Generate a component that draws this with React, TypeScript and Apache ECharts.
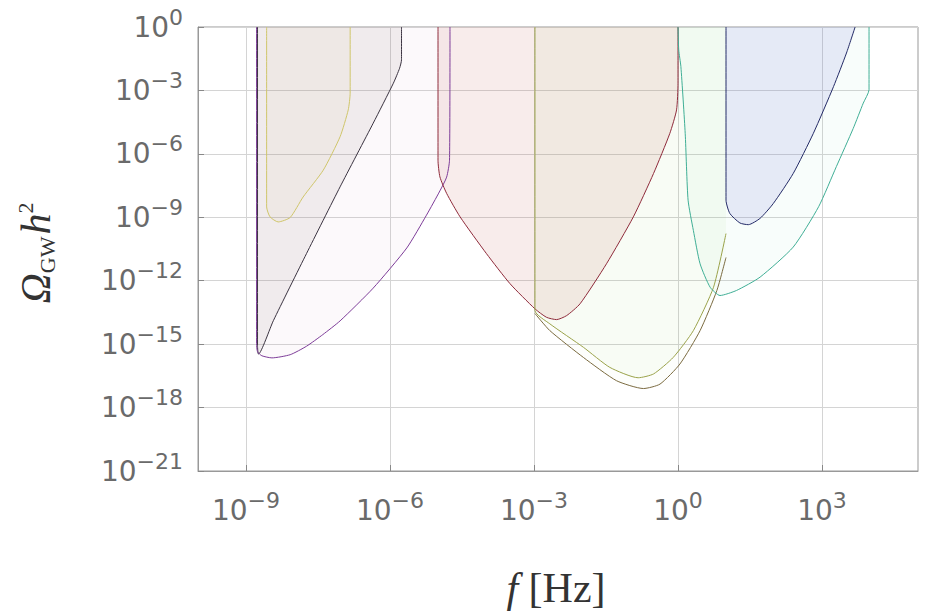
import React, { useEffect, useRef } from "react";
import * as echarts from "echarts";

// All values are log10 f [Hz] and log10 Ω_GW h².
const xTickExponents = [-9, -6, -3, 0, 3];

const blackLogF = [-8.76, -8.76, -8.74, -8.43, -7.74, -7.04, -6.35, -5.93, -5.8, -5.76, -5.76];
const blackLogOmega = [0, -15.07, -15.47, -13.89, -10.72, -7.56, -4.55, -2.66, -1.95, -1.55, 0];

const purpleLogF = [-8.78, -8.78, -8.76, -8.67, -8.46, -8.08, -7.74, -7.4, -7.04, -6.35, -5.65, -5.24, -4.96, -4.82, -4.76, -4.75];
const purpleLogOmega = [0, -14.98, -15.36, -15.55, -15.65, -15.5, -15.1, -14.55, -13.9, -12.35, -10.45, -8.9, -7.75, -7.1, -6.3, 0];

const yellowLogF = [-8.57, -8.57, -8.5, -8.33, -8.08, -7.81, -7.39, -7.04, -6.87, -6.83, -6.83];
const yellowLogOmega = [0, -8.51, -8.98, -9.22, -9.01, -8.04, -6.77, -5.19, -3.92, -3.13, 0];

const redLogF = [-5.0, -5.0, -4.96, -4.82, -4.54, -3.99, -3.5, -2.98, -2.74, -2.53, -2.32, -2.04, -1.49, -0.93, -0.51, -0.17, -0.03, 0.0, 0.0];
const redLogOmega = [0, -6.3, -7.09, -7.87, -8.98, -10.72, -12.14, -13.33, -13.73, -13.84, -13.65, -13.09, -11.2, -8.98, -6.93, -5.03, -3.92, -2.66, 0];

const oliveALogF = [-2.98, -2.98, -2.67, -1.97, -1.42, -0.83, -0.51, -0.1, 0.32, 0.74, 1.0];
const oliveALogOmega = [0, -13.41, -14.04, -15.15, -16.1, -16.59, -16.41, -15.63, -14.36, -12.31, -9.77];

const oliveBLogF = [-2.98, -2.67, -1.97, -1.28, -0.72, -0.375, 0.04, 0.46, 0.81, 1.0];
const oliveBLogOmega = [-13.55, -14.36, -15.63, -16.73, -17.1, -16.89, -15.94, -14.36, -12.46, -10.9];

const tealLogF = [0.0, 0.015, 0.06, 0.15, 0.21, 0.32, 0.46, 0.67, 0.875, 1.22, 1.71, 2.4, 2.93, 3.3, 3.65, 3.86, 3.98, 3.98];
const tealLogOmega = [0, -1.08, -1.87, -5.03, -8.19, -9.62, -11.2, -12.31, -12.7, -12.46, -11.83, -10.41, -8.5, -6.6, -4.8, -3.6, -2.97, 0];

const navyLogF = [1.0, 1.0, 1.08, 1.29, 1.465, 1.71, 1.985, 2.4, 2.82, 3.24, 3.51, 3.69];
const navyLogOmega = [0, -8.19, -8.82, -9.27, -9.35, -9.05, -8.35, -6.93, -5.03, -2.82, -1.23, 0];

const curves = [
  { name: "black", f: blackLogF, o: blackLogOmega, line: "#3a3340", fill: "rgba(110,90,80,0.12)" },
  { name: "purple", f: purpleLogF, o: purpleLogOmega, line: "#7d3c98", fill: "rgba(200,120,170,0.07)" },
  { name: "yellow", f: yellowLogF, o: yellowLogOmega, line: "#cfc56a", fill: "rgba(200,190,80,0.06)" },
  { name: "red", f: redLogF, o: redLogOmega, line: "#8e2a3a", fill: "rgba(190,90,80,0.16)" },
  { name: "oliveA", f: oliveALogF, o: oliveALogOmega, line: "#9aa24a", fill: "rgba(150,200,100,0.06)" },
  { name: "oliveB", f: oliveBLogF, o: oliveBLogOmega, line: "#7b6b40", fill: "rgba(150,200,100,0.03)" },
  { name: "teal", f: tealLogF, o: tealLogOmega, line: "#3fae95", fill: "rgba(120,210,190,0.08)" },
  { name: "navy", f: navyLogF, o: navyLogOmega, line: "#232a66", fill: "rgba(90,90,210,0.16)" },
];

const expText = (v: number) => (v < 0 ? "\u2212" + String(-v) : String(v));

const labelRich = {
  b: { fontSize: 28, fontFamily: "DejaVu Sans", color: "#6a6a6a" },
  s: { fontSize: 22, fontFamily: "DejaVu Sans", color: "#6a6a6a", padding: [0, 0, 20, 0] },
};

export default function App() {
  const ref = useRef<HTMLDivElement>(null);
  useEffect(() => {
    document.body.style.margin = "0";
    const chart = echarts.init(ref.current!, null, { renderer: "svg" });
    const option: any = {
      animation: false,
      backgroundColor: "#fff",
      grid: { left: 198, right: 10, top: 27, bottom: 141, show: true, borderColor: "#999", borderWidth: 1 },
      xAxis: {
        type: "value",
        min: -10,
        max: 5,
        interval: 1,
        axisLine: { show: true, onZero: false, lineStyle: { color: "#999" } },
        axisTick: { show: true, inside: true, length: 6, customValues: xTickExponents, lineStyle: { color: "#888" } },
        splitLine: { show: true, lineStyle: { color: "#d4d4d4", width: 1 } },
        axisLabel: {
          margin: 18,
          formatter: (v: number) => {
            const r = Math.round(v);
            return xTickExponents.indexOf(r) >= 0 ? `{b|10}{s|${expText(r)}}` : "";
          },
          rich: labelRich,
        },
      },
      yAxis: {
        type: "value",
        min: -21,
        max: 0,
        interval: 3,
        axisLine: { show: true, onZero: false, lineStyle: { color: "#999" } },
        axisTick: { show: true, inside: true, length: 6, lineStyle: { color: "#888" } },
        splitLine: { show: true, lineStyle: { color: "#d4d4d4", width: 1 } },
        axisLabel: {
          margin: 15,
          formatter: (v: number) => `{b|10}{s|${expText(Math.round(v))}}`,
          rich: labelRich,
        },
      },
      graphic: [
        {
          type: "text",
          x: 556,
          y: 588,
          silent: true,
          style: {
            text: "{i|f} [Hz]",
            fontSize: 42,
            fontFamily: "Liberation Serif",
            fill: "#333",
            align: "center",
            verticalAlign: "middle",
            rich: { i: { fontSize: 42, fontFamily: "Liberation Serif", fontStyle: "italic", fill: "#333" } },
          },
        },
        {
          type: "text",
          x: 36,
          y: 253,
          rotation: Math.PI / 2,
          silent: true,
          style: {
            text: "{o|\u03A9}{g|GW}{h|h}{s|2}",
            fontSize: 42,
            fontFamily: "Liberation Serif",
            fill: "#333",
            align: "center",
            verticalAlign: "middle",
            rich: {
              o: { fontSize: 42, fontFamily: "Liberation Serif", fontStyle: "italic", fill: "#333" },
              g: { fontSize: 22, fontFamily: "Liberation Serif", fill: "#333", padding: [22, 2, 0, 0] },
              h: { fontSize: 42, fontFamily: "Liberation Serif", fontStyle: "italic", fill: "#333" },
              s: { fontSize: 22, fontFamily: "Liberation Serif", fill: "#333", padding: [0, 0, 22, 0] },
            },
          },
        },
      ],
      series: curves.map((c) => ({
        type: "line",
        name: c.name,
        data: c.f.map((x, i) => [x, c.o[i]]),
        showSymbol: false,
        symbol: "none",
        smooth: 0.2,
        silent: true,
        lineStyle: { color: c.line, width: 1 },
        areaStyle: { origin: "end", color: c.fill },
      })),
    };
    chart.setOption(option);
    return () => chart.dispose();
  }, []);
  return <div ref={ref} style={{ width: 928, height: 612 }} />;
}
